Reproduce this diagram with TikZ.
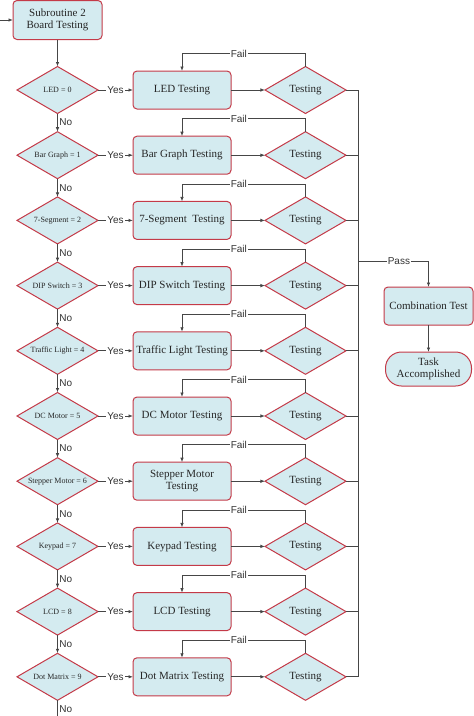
\documentclass[tikz,border=0pt]{standalone}
\usepackage{fontspec}
\setmainfont{Liberation Serif}
\newfontfamily\boxfont{Liberation Serif}
\newfontfamily\labelfont{Liberation Sans}
\usepackage{tikz}
\usetikzlibrary{
    arrows.meta,
    positioning,
    shapes.geometric
}
\definecolor{boxfill}{RGB}{212,235,240}
\definecolor{boxedge}{RGB}{196,58,72}
\definecolor{linegray}{RGB}{70,70,70}

\begin{document}
\begin{tikzpicture}[
    x=1pt, y=-1pt,
    >={Latex[length=4.5pt,width=3.5pt]},
    block/.style={
        rectangle,
        draw=boxedge,
        fill=boxfill,
        line width=1pt,
        rounded corners=4pt,
        align=center,
        inner sep=2pt,
        outer sep=0pt,
        text=black!85,
        font=\boxfont\fontsize{11}{12.5}\selectfont
    },
    startblock/.style={
        block,
        minimum width=89pt,
        minimum height=39pt
    },
    testblock/.style={
        block,
        minimum width=98pt,
        minimum height=38pt
    },
    endblock/.style={
        block,
        minimum width=86pt,
        minimum height=34pt,
        rounded corners=16pt
    },
    decision/.style={
        diamond,
        aspect=1.72,
        draw=boxedge,
        fill=boxfill,
        line width=1pt,
        minimum width=81pt,
        minimum height=47pt,
        inner sep=0pt,
        outer sep=0pt,
        text=black!85,
        font=\boxfont\fontsize{8}{9}\selectfont
    },
    checkblock/.style={
        decision,
        font=\boxfont\fontsize{11}{12}\selectfont
    },
    line/.style={draw=linegray, line width=0.8pt},
    arrow/.style={line, ->},
    tag/.style={font=\labelfont\fontsize{10}{11}\selectfont, text=black!80, fill=white, inner sep=1pt},
    notag/.style={font=\labelfont\fontsize{10}{11}\selectfont, text=black!80, inner sep=1.5pt}
]
\useasboundingbox (0,0) rectangle (474,716);

% Start block
\coordinate (entry) at (0,20);
\node[startblock] (start) at (57.5,20) {Subroutine 2\\Board Testing};

% Decision column
\node[decision, below=27pt of start] (led) {LED = 0};
\node[decision, below=18.2pt of led] (bar) {Bar Graph = 1};
\node[decision, below=18.2pt of bar] (seg) {7-Segment = 2};
\node[decision, below=18.2pt of seg] (dip) {DIP Switch = 3};
\node[decision, below=18.2pt of dip] (traffic) {Traffic Light = 4};
\node[decision, below=18.2pt of traffic] (dc) {DC Motor = 5};
\node[decision, below=18.2pt of dc] (stepper) {Stepper Motor = 6};
\node[decision, below=18.2pt of stepper] (keypad) {Keypad = 7};
\node[decision, below=18.2pt of keypad] (lcd) {LCD = 8};
\node[decision, below=18.2pt of lcd] (dot) {Dot Matrix = 9};
\coordinate[below=15.5pt of dot] (exit);

% Test blocks
\node[testblock, right=35pt of led] (ledtest) {LED Testing};
\node[testblock, right=35pt of bar] (bartest) {Bar Graph Testing};
\node[testblock, right=35pt of seg] (segtest) {7-Segment~ Testing};
\node[testblock, right=35pt of dip] (diptest) {DIP Switch Testing};
\node[testblock, right=35pt of traffic] (traffictest) {Traffic Light Testing};
\node[testblock, right=35pt of dc] (dctest) {DC Motor Testing};
\node[testblock, right=35pt of stepper] (steppertest) {Stepper Motor\\Testing};
\node[testblock, right=35pt of keypad] (keypadtest) {Keypad Testing};
\node[testblock, right=35pt of lcd] (lcdtest) {LCD Testing};
\node[testblock, right=35pt of dot] (dottest) {Dot Matrix Testing};

% Check diamonds
\node[checkblock, right=34pt of ledtest] (ledchk) {Testing};
\node[checkblock, right=34pt of bartest] (barchk) {Testing};
\node[checkblock, right=34pt of segtest] (segchk) {Testing};
\node[checkblock, right=34pt of diptest] (dipchk) {Testing};
\node[checkblock, right=34pt of traffictest] (trafficchk) {Testing};
\node[checkblock, right=34pt of dctest] (dcchk) {Testing};
\node[checkblock, right=34pt of steppertest] (stepperchk) {Testing};
\node[checkblock, right=34pt of keypadtest] (keypadchk) {Testing};
\node[checkblock, right=34pt of lcdtest] (lcdchk) {Testing};
\node[checkblock, right=34pt of dottest] (dotchk) {Testing};

% Pass branch
\coordinate[right=12pt of ledchk] (bustop);
\coordinate[right=12pt of dotchk] (busbot);
\coordinate (pass) at (358,261);
\node[testblock, minimum width=89pt] (combo) at (428.5,306) {Combination Test};
\node[endblock, below=27pt of combo] (done) {Task\\Accomplished};

% Main flow arrows
\draw[arrow] (entry) -- (start);
\draw[arrow] (start) -- (led);
\draw[arrow] (led) -- node[notag, right]{No} (bar);
\draw[arrow] (bar) -- node[notag, right]{No} (seg);
\draw[arrow] (seg) -- node[notag, right]{No} (dip);
\draw[arrow] (dip) -- node[notag, right]{No} (traffic);
\draw[arrow] (traffic) -- node[notag, right]{No} (dc);
\draw[arrow] (dc) -- node[notag, right]{No} (stepper);
\draw[arrow] (stepper) -- node[notag, right]{No} (keypad);
\draw[arrow] (keypad) -- node[notag, right]{No} (lcd);
\draw[arrow] (lcd) -- node[notag, right]{No} (dot);
\draw[line] (dot) -- node[notag, right, pos=0.55]{No} (exit);

% Yes arrows
\draw[arrow] (led) -- node[tag]{Yes} (ledtest);
\draw[arrow] (bar) -- node[tag]{Yes} (bartest);
\draw[arrow] (seg) -- node[tag]{Yes} (segtest);
\draw[arrow] (dip) -- node[tag]{Yes} (diptest);
\draw[arrow] (traffic) -- node[tag]{Yes} (traffictest);
\draw[arrow] (dc) -- node[tag]{Yes} (dctest);
\draw[arrow] (stepper) -- node[tag]{Yes} (steppertest);
\draw[arrow] (keypad) -- node[tag]{Yes} (keypadtest);
\draw[arrow] (lcd) -- node[tag]{Yes} (lcdtest);
\draw[arrow] (dot) -- node[tag]{Yes} (dottest);

% Into the checks
\draw[arrow] (ledtest) -- (ledchk);
\draw[arrow] (bartest) -- (barchk);
\draw[arrow] (segtest) -- (segchk);
\draw[arrow] (diptest) -- (dipchk);
\draw[arrow] (traffictest) -- (trafficchk);
\draw[arrow] (dctest) -- (dcchk);
\draw[arrow] (steppertest) -- (stepperchk);
\draw[arrow] (keypadtest) -- (keypadchk);
\draw[arrow] (lcdtest) -- (lcdchk);
\draw[arrow] (dottest) -- (dotchk);

% Fail loops
\draw[arrow] (ledchk.north) -- ++(0,-13) -| node[tag, pos=0.27]{Fail} (ledtest.north);
\draw[arrow] (barchk.north) -- ++(0,-13) -| node[tag, pos=0.27]{Fail} (bartest.north);
\draw[arrow] (segchk.north) -- ++(0,-13) -| node[tag, pos=0.27]{Fail} (segtest.north);
\draw[arrow] (dipchk.north) -- ++(0,-13) -| node[tag, pos=0.27]{Fail} (diptest.north);
\draw[arrow] (trafficchk.north) -- ++(0,-13) -| node[tag, pos=0.27]{Fail} (traffictest.north);
\draw[arrow] (dcchk.north) -- ++(0,-13) -| node[tag, pos=0.27]{Fail} (dctest.north);
\draw[arrow] (stepperchk.north) -- ++(0,-13) -| node[tag, pos=0.27]{Fail} (steppertest.north);
\draw[arrow] (keypadchk.north) -- ++(0,-13) -| node[tag, pos=0.27]{Fail} (keypadtest.north);
\draw[arrow] (lcdchk.north) -- ++(0,-13) -| node[tag, pos=0.27]{Fail} (lcdtest.north);
\draw[arrow] (dotchk.north) -- ++(0,-13) -| node[tag, pos=0.27]{Fail} (dottest.north);

% Pass collector
\draw[line] (bustop) -- (busbot);
\draw[line] (ledchk) -- (ledchk -| bustop);
\draw[line] (barchk) -- (barchk -| bustop);
\draw[line] (segchk) -- (segchk -| bustop);
\draw[line] (dipchk) -- (dipchk -| bustop);
\draw[line] (trafficchk) -- (trafficchk -| bustop);
\draw[line] (dcchk) -- (dcchk -| bustop);
\draw[line] (stepperchk) -- (stepperchk -| bustop);
\draw[line] (keypadchk) -- (keypadchk -| bustop);
\draw[line] (lcdchk) -- (lcdchk -| bustop);
\draw[line] (dotchk) -- (dotchk -| bustop);
\draw[arrow] (pass) -| node[tag, pos=0.29]{Pass} (combo.north);
\draw[arrow] (combo) -- (done);

\end{tikzpicture}
\end{document}
